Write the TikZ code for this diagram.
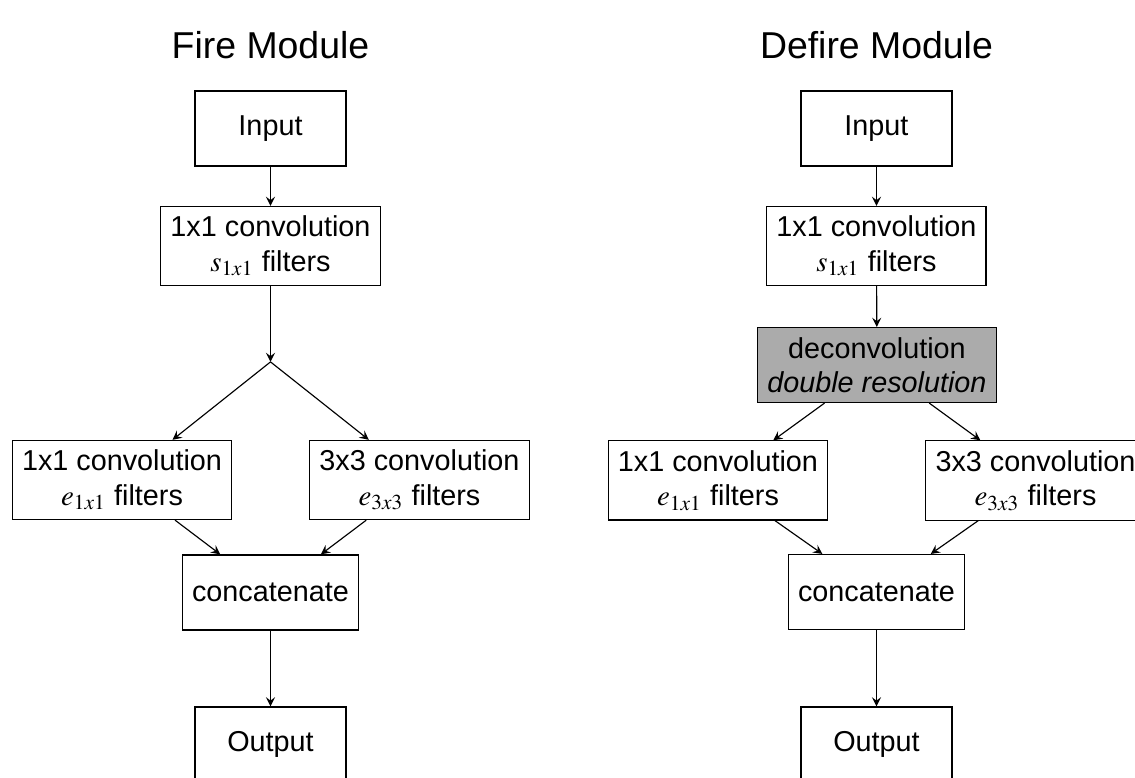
\documentclass[tikz,border=0pt]{standalone}
\usepackage{mathptmx}
\usepackage[no-math]{fontspec}
\setmainfont{Liberation Sans}

\begin{document}
\begin{tikzpicture}[node distance=1.435cm, >=stealth,
		block/.style={rectangle, draw, text centered, align=center, minimum height=0.916cm, minimum width=1.844cm},
		deconvblock/.style={block, fill=black!33},
		title/.style={font=\fontsize{13}{15}\selectfont}]
		\useasboundingbox (-3.303,1.569) rectangle (10.556,-7.930);
		\clip (-3.303,1.569) rectangle (10.556,-7.930);

		% fire module
		\node (firetitle) [title] at (0,1.02) {Fire Module};
		\node (fireinput) [block] at (0,0) {Input};
		\node (fireconv) [block, below of=fireinput] {1x1 convolution\\$s_{1x1}$ filters};
		\coordinate (firesplit) at (0,-2.85);
		\node (fireleft) [block] at (-1.813,-4.292) {1x1 convolution\\$e_{1x1}$ filters};
		\node (fireright) [block] at (1.819,-4.292) {3x3 convolution\\$e_{3x3}$ filters};
		\node (fireconcat) [block] at (0,-5.665) {concatenate};
		\node (fireoutput) [block] at (0,-7.521) {Output};

		\draw[->] (fireinput) -- (fireconv);
		\draw[->] (fireconv) -- (firesplit);
		\draw[->] (firesplit) -- (fireleft);
		\draw[->] (firesplit) -- (fireright);
		\draw[->] (fireleft) -- (fireconcat);
		\draw[->] (fireright) -- (fireconcat);
		\draw[->] (fireconcat) -- (fireoutput);

		% defire module, same layout with a deconvolution step
		\begin{scope}[xshift=7.399cm]
			\node (deftitle) [title] at (0,1.02) {Defire Module};
			\node (definput) [block] at (0,0) {Input};
			\node (defconv) [block, below of=definput] {1x1 convolution\\$s_{1x1}$ filters};
			\node (defdeconv) [deconvblock] at (0.006,-2.888) {deconvolution\\\textit{double resolution}};
			\node (defleft) [block] at (-1.935,-4.298) {1x1 convolution\\$e_{1x1}$ filters};
			\node (defright) [block] at (1.942,-4.298) {3x3 convolution\\$e_{3x3}$ filters};
			\node (defconcat) [block] at (0,-5.66) {concatenate};
			\node (defoutput) [block] at (0,-7.521) {Output};
		\end{scope}

		\draw[->] (definput) -- (defconv);
		\draw[->] (defconv) -- (defdeconv);
		\draw[->] (defdeconv) -- (defleft);
		\draw[->] (defdeconv) -- (defright);
		\draw[->] (defleft) -- (defconcat);
		\draw[->] (defright) -- (defconcat);
		\draw[->] (defconcat) -- (defoutput);
	\end{tikzpicture}
\end{document}
